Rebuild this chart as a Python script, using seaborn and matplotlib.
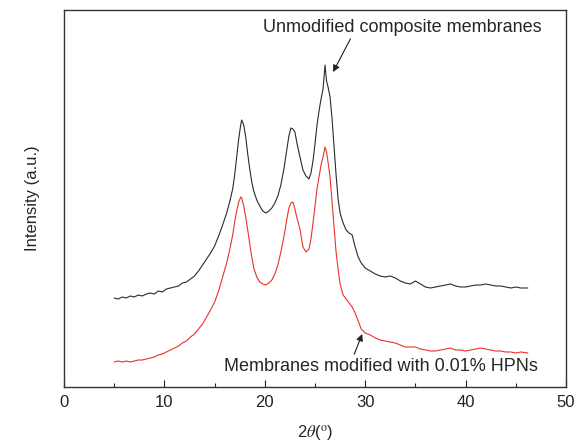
import numpy as np
import pandas as pd
import matplotlib
matplotlib.use("Agg")
import matplotlib.pyplot as plt
import seaborn as sns

# 2theta sample positions (degrees)
two_theta = [5.0, 5.4, 5.8, 6.2, 6.6, 7.0, 7.4, 7.8, 8.2, 8.6, 9.0, 9.4, 9.8, 10.2, 10.6,
             11.0, 11.4, 11.8, 12.2, 12.6, 13.0, 13.4, 13.8, 14.2, 14.6, 15.0, 15.4, 15.8,
             16.2, 16.5, 16.8, 17.0, 17.2, 17.4, 17.6, 17.7, 17.9, 18.1, 18.3, 18.5, 18.7,
             18.9, 19.2, 19.5, 19.8, 20.1, 20.4, 20.7, 21.0, 21.3, 21.6, 21.9, 22.2, 22.4,
             22.6, 22.8, 23.0, 23.2, 23.5, 23.8, 24.1, 24.4, 24.6, 24.8, 25.0, 25.2, 25.4,
             25.6, 25.8, 26.0, 26.15, 26.3, 26.5, 26.7, 26.9, 27.1, 27.3, 27.5, 27.8, 28.1,
             28.4, 28.7, 29.0, 29.3, 29.6, 30.0, 30.5, 31.0, 31.5, 32.0, 32.5, 33.0, 33.5,
             34.0, 34.5, 35.0, 35.5, 36.0, 36.5, 37.0, 37.5, 38.0, 38.5, 39.0, 39.5, 40.0,
             40.5, 41.0, 41.5, 42.0, 42.5, 43.0, 43.5, 44.0, 44.5, 45.0, 45.5, 46.2]

unmodified = [89, 88, 90, 89, 91, 90, 92, 91, 93, 94, 93, 96, 95, 98, 99,
              100, 101, 104, 105, 108, 111, 116, 122, 128, 134, 141, 151, 162,
              174, 185, 198, 212, 230, 248, 262, 267, 262, 250, 233, 218, 205,
              196, 187, 181, 176, 174, 176, 179, 184, 191, 202, 218, 238, 251,
              259, 258, 255, 244, 230, 217, 211, 208, 214, 226, 243, 262, 276,
              288, 298, 322, 306, 300, 290, 268, 240, 212, 188, 174, 164, 157,
              154, 152, 140, 130, 124, 119, 116, 113, 111, 110, 111, 109, 106,
              104, 103, 106, 103, 100, 99, 100, 101, 102, 103, 101, 100, 100,
              101, 102, 102, 103, 102, 101, 101, 100, 99, 100, 99, 99]

modified = [25, 26, 25, 26, 25, 26, 27, 27, 28, 29, 30, 32, 33, 35, 37,
            39, 41, 44, 46, 50, 53, 58, 63, 70, 77, 85, 96, 110,
            124, 137, 152, 165, 176, 185, 190, 189, 181, 170, 157, 143, 130,
            119, 110, 105, 103, 102, 104, 107, 113, 122, 135, 150, 168, 179,
            184, 185, 178, 169, 158, 140, 135, 138, 148, 164, 181, 198, 210,
            222, 230, 240, 235, 225, 210, 185, 160, 135, 118, 103, 92, 88,
            84, 80, 74, 66, 58, 54, 52, 49, 47, 46, 45, 44, 42,
            40, 40, 40, 38, 37, 36, 36, 37, 38, 39, 37, 37, 36,
            37, 38, 39, 38, 37, 36, 36, 35, 35, 34, 35, 34]

labels = ["Unmodified composite membranes", "Membranes modified with 0.01% HPNs"]
x_ticks = [0, 10, 20, 30, 40, 50]

sns.set_style("white")
plt.rcParams['font.family'] = ['Liberation Sans', 'DejaVu Sans']
plt.rcParams['mathtext.fontset'] = 'stix'

df = pd.concat([
    pd.DataFrame({"x": two_theta, "y": unmodified, "s": labels[0]}),
    pd.DataFrame({"x": two_theta, "y": modified, "s": labels[1]}),
])

fig = plt.figure(figsize=(5.86, 4.48), dpi=100)
ax = fig.add_axes([64/586, 1-387/448, (566-64)/586, (387-10)/448])
sns.lineplot(data=df, x="x", y="y", hue="s", palette=["#2b2b2b", "#e8332b"],
             linewidth=0.8, legend=False, ax=ax, estimator=None, sort=False)

ax.set_xlim(0, 50)
ax.set_ylim(0, 377)
ax.set_xticks(x_ticks)
ax.set_xticklabels([str(t) for t in x_ticks], fontsize=12)
ax.set_xticks([5, 15, 25, 35, 45], minor=True)
ax.set_yticks([])
ax.tick_params(axis='x', which='major', direction='in', length=5, width=0.8,
               bottom=True, top=False, pad=6, colors='#222222')
ax.tick_params(axis='x', which='minor', direction='in', length=3, width=0.8,
               bottom=True, top=False)
for sp in ax.spines.values():
    sp.set_color('#333333')
    sp.set_linewidth(1.0)

ax.set_xlabel(r'2$\theta$($^{\mathrm{o}}$)', fontsize=12, labelpad=9)
ax.set_ylabel('Intensity (a.u.)', fontsize=12, labelpad=17)

ax.annotate(labels[0], xy=(26.8, 315), xytext=(33.7, 360), fontsize=13,
            ha='center', va='center',
            arrowprops=dict(arrowstyle='-|>', color='#222222', lw=0.8,
                            mutation_scale=10, shrinkA=0, shrinkB=0,
                            relpos=(0.32, 0.0)))
ax.annotate(labels[1], xy=(29.7, 53), xytext=(31.6, 21), fontsize=13,
            ha='center', va='center',
            arrowprops=dict(arrowstyle='-|>', color='#222222', lw=0.8,
                            mutation_scale=10, shrinkA=0, shrinkB=0,
                            relpos=(0.41, 1.0)))

fig.savefig("out.png", dpi=100)
